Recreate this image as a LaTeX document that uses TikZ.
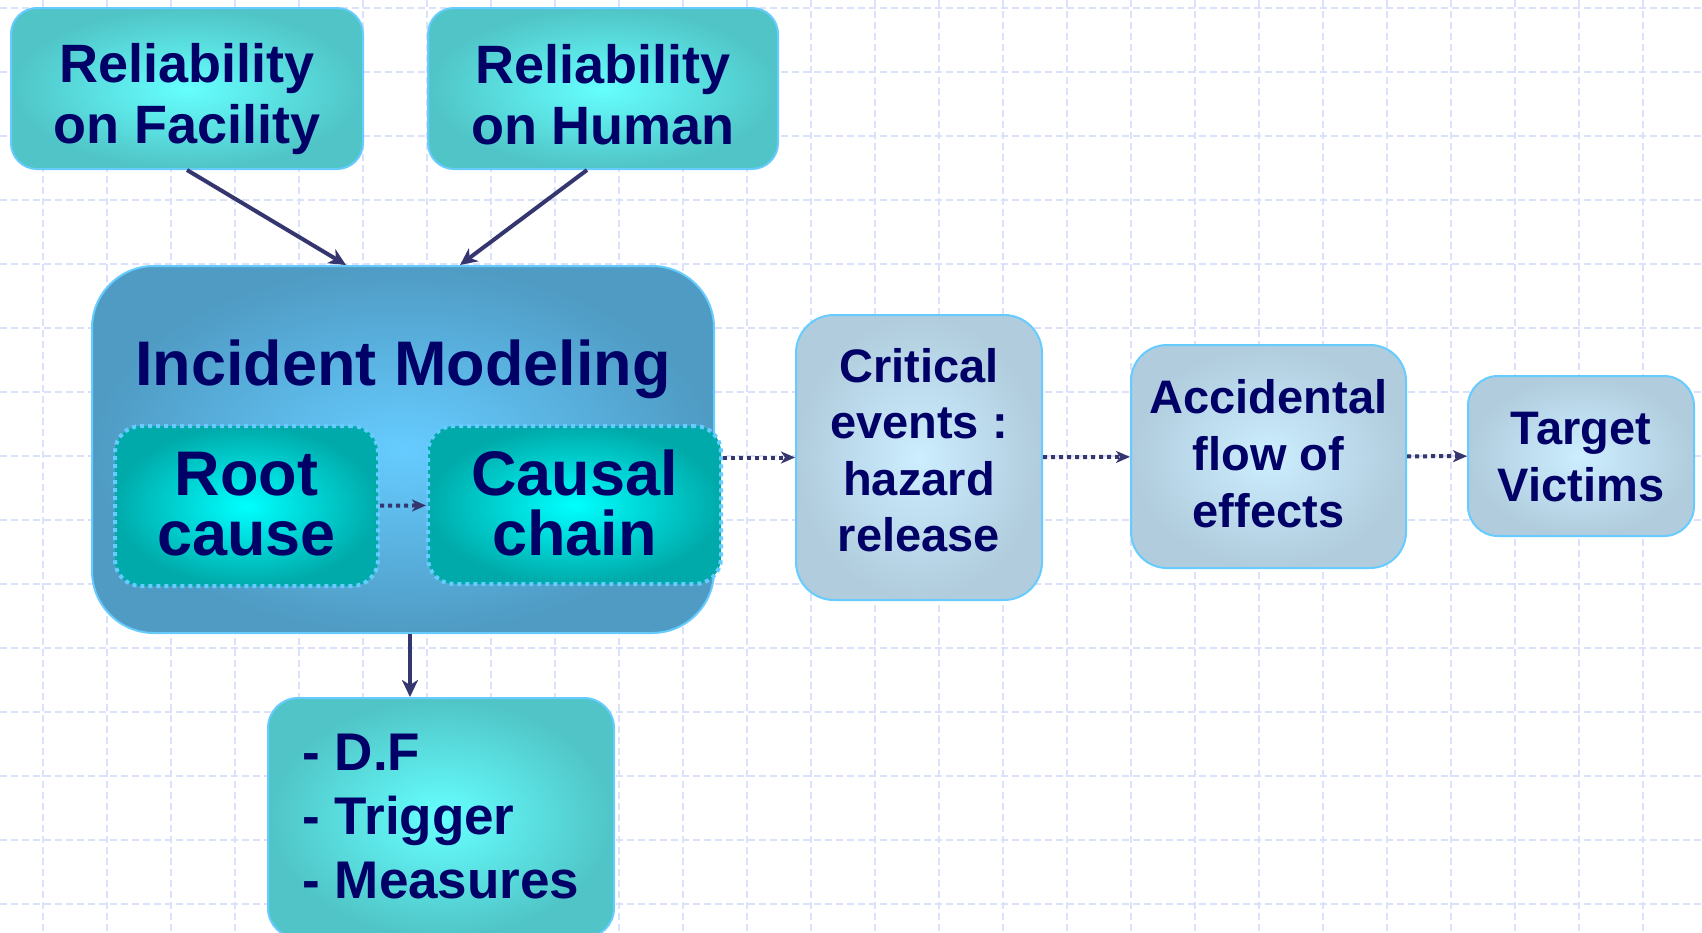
\documentclass[tikz,border=0pt]{standalone}
\usepackage{fontspec}
\setmainfont{Liberation Sans}
\usetikzlibrary{arrows.meta,calc}

\definecolor{navytext}{HTML}{000066}
\definecolor{arrowcol}{HTML}{353570}
\definecolor{edgeblue}{HTML}{66CCFF}
\definecolor{gridcol}{HTML}{DAE1FA}
\definecolor{tealout}{HTML}{50C4C6}
\definecolor{tealin}{HTML}{66FFFF}
\definecolor{steelout}{HTML}{4F9BC4}
\definecolor{steelin}{HTML}{66CCFF}
\definecolor{cyanout}{HTML}{00AAAA}
\definecolor{cyanin}{HTML}{00FFFF}
\definecolor{greyout}{HTML}{B0CCDD}
\definecolor{greyin}{HTML}{CCEEFF}

% text height is measured from the last baseline (text depth is zero),
% so it fixes where the block of lines sits inside each card
\tikzset{
  card/.style={draw=edgeblue, line width=2pt, inner sep=0pt, text=navytext,
               align=center, text depth=0pt},
  tealcard/.style={card, inner color=tealin, outer color=tealout, rounded corners=26pt},
  steelcard/.style={card, inner color=steelin, outer color=steelout, rounded corners=62pt},
  cyancard/.style={card, inner color=cyanin, outer color=cyanout, rounded corners=26pt,
                   line width=4pt, dash pattern=on 4pt off 4pt},
  greycard/.style={card, inner color=greyin, outer color=greyout, rounded corners=36pt},
  bigfont/.style={font=\fontsize{54}{61}\selectfont\bfseries},
  hugefont/.style={font=\fontsize{63}{60}\selectfont\bfseries},
  midfont/.style={font=\fontsize{47}{57}\selectfont\bfseries},
  link/.style={draw=arrowcol, line width=4pt,
               -{Stealth[length=17pt,width=16pt,inset=5pt]}},
  dotlink/.style={draw=arrowcol, line width=4pt, dash pattern=on 4pt off 4pt,
                  -{Stealth[length=14pt,width=12pt,inset=4pt]}},
  gridline/.style={draw=gridcol, line width=1.1pt, dash pattern=on 7pt off 4pt},
}

\begin{document}
\begin{tikzpicture}[x=1pt,y=-1pt]
  % page frame and white paper
  \path[use as bounding box, clip] (0,0) rectangle (1702,932);
  \fill[white] (0,0) rectangle (1702,932);

  % dashed background grid
  \foreach \gx in {43,107,...,1707} \draw[gridline] (\gx,0) -- (\gx,932);
  \foreach \gy in {8,72,...,904} \draw[gridline] (0,\gy) -- (1702,\gy);

  % reliability inputs
  \node[tealcard, bigfont, minimum width=352pt, minimum height=161pt, text height=109pt]
    (rf) at (187,88.5) {Reliability\\on Facility};
  \node[tealcard, bigfont, minimum width=350pt, minimum height=161pt, text height=111pt]
    (rh) at (603,88.5) {Reliability\\on Human};

  % incident model with its two parts
  \node[steelcard, minimum width=622pt, minimum height=367pt] (im) at (403,449.5) {};
  \node[font=\fontsize{63}{70}\selectfont\bfseries, text=navytext, anchor=base, inner sep=0pt]
    (imtitle) at (403,385) {Incident Modeling};
  \node[cyancard, hugefont, minimum width=263pt, minimum height=160pt, text height=98pt]
    (root) at (246.5,506) {Root\\cause};
  \node[cyancard, hugefont, minimum width=293pt, minimum height=158pt, text height=100pt]
    (causal) at (574.5,505) {Causal\\chain};

  % consequence chain
  \node[greycard, font=\fontsize{47}{56.5}\selectfont\bfseries,
        minimum width=246pt, minimum height=285pt, rounded corners=38pt, text height=188pt]
    (crit) at (919,457.5) {Critical\\events :\\hazard\\release};
  \node[greycard, midfont, minimum width=275pt, minimum height=223pt, text height=141pt]
    (acc) at (1268.5,456.5) {Accidental\\flow of\\effects};
  \node[greycard, midfont, minimum width=226pt, minimum height=160pt, rounded corners=30pt,
        text height=90pt]
    (target) at (1581,456) {Target\\Victims};

  % outputs of the model
  \node[tealcard, font=\fontsize{53}{64}\selectfont\bfseries, align=left,
        minimum width=346pt, minimum height=240pt, rounded corners=30pt, text height=160pt]
    (df) at (441,818) {- D.F\\- Trigger\\- Measures};

  % connector end points on the card borders
  \coordinate (imleft)  at ($(im.north)+(-57,0)$);
  \coordinate (imright) at ($(im.north)+(57,0)$);
  \coordinate (rhout)   at ($(rh.south)+(-16,0)$);
  \coordinate (dfin)    at ($(df.north)+(-31,0)$);

  % connectors
  \draw[link] (rf.south) -- (imleft);
  \draw[link] (rhout) -- (imright);
  \draw[link] (im.south -| dfin) -- (dfin);
  \draw[dotlink] (root) -- (causal);
  \draw[dotlink] (causal.east |- crit.west) -- (crit.west);
  \draw[dotlink] (crit) -- (acc);
  \draw[dotlink] (acc) -- (target);
\end{tikzpicture}
\end{document}
